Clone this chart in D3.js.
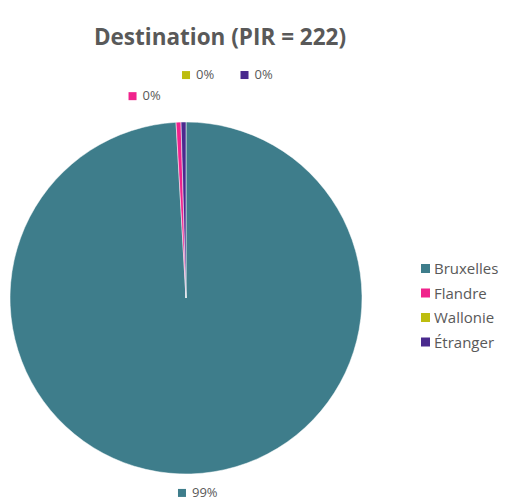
<!DOCTYPE html>
<html>
<head>
<meta charset="utf-8">
<script src="https://cdn.jsdelivr.net/npm/d3@7"></script>
<style>
  html, body { margin: 0; padding: 0; background: #fff; }
  svg { display: block; font-family: "Open Sans", "Noto Sans", sans-serif; }
</style>
</head>
<body>
<svg id="chart" width="517" height="502"></svg>
<script>
const categories = ["Bruxelles", "Flandre", "Wallonie", "Étranger"];
const counts = [220, 1, 0, 1];
const colors = ["#3E7D8B", "#F0238C", "#BDBD0F", "#4A2A8E"];
const title = "Destination (PIR = 222)";

// Data label placement (offset from the outer arc point, in px)
const labelOffsets = [
  { dx: 1, dy: 23 },
  { dx: -36, dy: -22 },
  { dx: 15, dy: -43 },
  { dx: 71, dy: -43 }
];

const svg = d3.select("#chart");
const cx = 186, cy = 298, r = 176;
const textColor = "#595959";

svg.append("text")
  .attr("x", 220).attr("y", 45)
  .attr("text-anchor", "middle")
  .attr("font-size", 22.5).attr("font-weight", 700)
  .attr("fill", textColor)
  .text(title);

const data = categories.map((c, i) => ({ name: c, value: counts[i], color: colors[i] }));
const total = d3.sum(counts);

const pie = d3.pie().value(d => d.value).sort(null);
const arcs = pie(data);
const arc = d3.arc().innerRadius(0).outerRadius(r);

const g = svg.append("g").attr("transform", `translate(${cx},${cy})`);
g.selectAll("path")
  .data(arcs.filter(a => a.data.value > 0))
  .join("path")
  .attr("d", arc)
  .attr("fill", d => d.data.color)
  .attr("stroke", "#fff")
  .attr("stroke-width", 0.5);

// Outside-end data labels with legend keys
const fmt = v => Math.round(v / total * 100) + "%";
arcs.forEach((a, i) => {
  const mid = (a.startAngle + a.endAngle) / 2;
  const px = Math.sin(mid) * r + labelOffsets[i].dx;
  const py = -Math.cos(mid) * r + labelOffsets[i].dy;
  const lg = g.append("g").attr("transform", `translate(${px},${py})`);
  lg.append("rect")
    .attr("x", -14).attr("y", -8).attr("width", 8).attr("height", 8)
    .attr("fill", a.data.color);
  lg.append("text")
    .attr("x", 0).attr("y", 0)
    .attr("font-size", 13).attr("fill", textColor)
    .text(fmt(a.data.value));
});

// Legend
const legend = svg.append("g").attr("transform", "translate(421,274)");
const rowH = 24.5;
data.forEach((d, i) => {
  const row = legend.append("g").attr("transform", `translate(0,${i * rowH})`);
  row.append("rect")
    .attr("x", 0).attr("y", -10).attr("width", 9).attr("height", 9)
    .attr("fill", d.color);
  row.append("text")
    .attr("x", 13).attr("y", 0)
    .attr("font-size", 15).attr("fill", textColor)
    .text(d.name);
});
</script>
</body>
</html>
